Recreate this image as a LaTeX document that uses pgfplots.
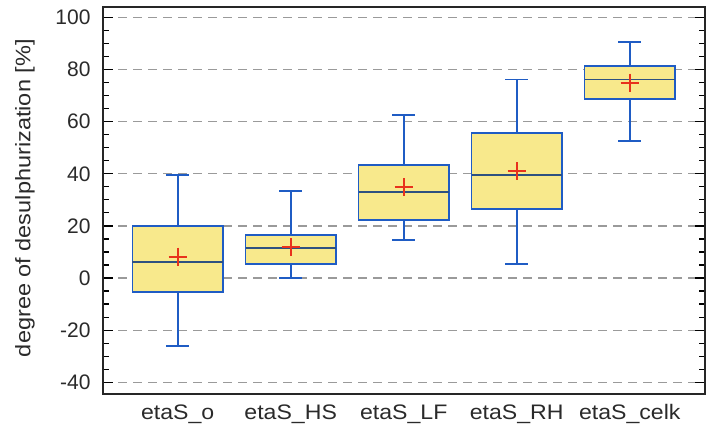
\documentclass[border=0pt]{standalone}
\usepackage{pgfplots}
\pgfplotsset{compat=1.18}
\usepgfplotslibrary{statistics}
\usepackage{graphicx}
\usepackage{fontspec}
\setmainfont{Liberation Sans}
\definecolor{boxfill}{HTML}{F8E98C}
\definecolor{boxblue}{HTML}{1F5CC4}
\definecolor{medblue}{HTML}{2E5180}
\definecolor{meanred}{HTML}{E8321C}
\definecolor{gridgray}{HTML}{9A9A9A}
\definecolor{txt}{HTML}{2A2A2A}
\newcommand{\sx}[1]{\scalebox{1.1}[1]{#1}}
\begin{document}
\begin{tikzpicture}
\useasboundingbox (0,0) rectangle (714bp,428bp);
\begin{axis}[
  at={(103bp,34bp)}, anchor=south west,
  scale only axis, width=602bp, height=387bp,
  xmin=0.339, xmax=5.666, ymin=-44.5, ymax=104,
  xtick={1,2,3,4,5},
  xticklabels={\sx{etaS\_o}, \sx{etaS\_HS}, \sx{etaS\_LF}, \sx{etaS\_RH}, \sx{etaS\_celk}},
  ytick={-40,-20,0,20,40,60,80,100},
  minor y tick num=3,
  ytick pos=both,
  tick align=inside,
  major tick length=10bp, minor tick length=6bp,
  x tick style={draw=none},
  y tick style={line width=1.2bp, black},
  ymajorgrids,
  major grid style={gridgray, dashed, dash pattern=on 9bp off 6bp, line width=1.3bp},
  axis line style={line width=1.8bp, black!85},
  /pgf/number format/assume math mode=true,
  tick label style={font=\fontsize{21bp}{25bp}\selectfont, text=txt},
  yticklabel style={xshift=-9bp},
  xticklabel style={yshift=-7bp},
  every axis y label/.style={at={(rel axis cs:-0.1296,0.506)}, rotate=90, anchor=center},
  ylabel={\scalebox{1.12}[1]{degree of desulphurization [\%]}},
  ylabel style={font=\fontsize{21bp}{25bp}\selectfont, text=txt},
  boxplot/draw direction=y,
  boxplot/box extend=0.8,
  boxplot/whisker extend=0.2,
  boxplot/every box/.style={draw=boxblue, fill=boxfill, line width=1.8bp},
  boxplot/every whisker/.style={draw=boxblue, line width=1.8bp},
  boxplot/every median/.style={draw=medblue, line width=1.8bp},
]
\addplot[boxplot prepared={draw position=1, lower whisker=-26.1, lower quartile=-5.5, median=6.0, upper quartile=20.0, upper whisker=39.6}, boxplot/draw direction=y, draw=boxblue, solid] coordinates {};
\addplot[boxplot prepared={draw position=2, lower whisker=0.0, lower quartile=5.4, median=11.4, upper quartile=16.6, upper whisker=33.4}, boxplot/draw direction=y, draw=boxblue, solid] coordinates {};
\addplot[boxplot prepared={draw position=3, lower whisker=14.6, lower quartile=22.3, median=32.9, upper quartile=43.4, upper whisker=62.5}, boxplot/draw direction=y, draw=boxblue, solid] coordinates {};
\addplot[boxplot prepared={draw position=4, lower whisker=5.3, lower quartile=26.6, median=39.6, upper quartile=55.5, upper whisker=76.2}, boxplot/draw direction=y, draw=boxblue, solid] coordinates {};
\addplot[boxplot prepared={draw position=5, lower whisker=52.6, lower quartile=68.7, median=76.2, upper quartile=81.4, upper whisker=90.6}, boxplot/draw direction=y, draw=boxblue, solid] coordinates {};
\addplot[only marks, mark=+, mark size=9bp, draw=meanred, mark options={draw=meanred, line width=2bp}] coordinates {(1,8.2) (2,11.8) (3,34.8) (4,41.0) (5,75.0)};
\end{axis}
\end{tikzpicture}
\end{document}
